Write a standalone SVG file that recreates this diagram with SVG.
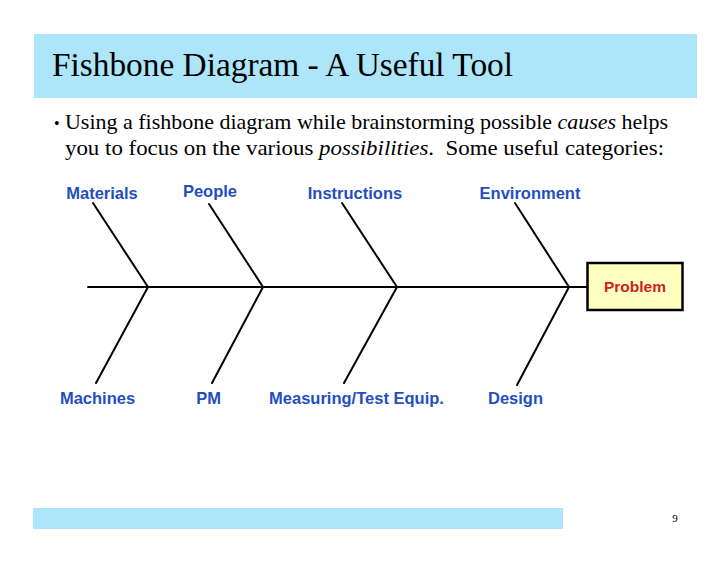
<svg xmlns="http://www.w3.org/2000/svg" width="728" height="563" viewBox="0 0 728 563">
<style>
.lbl{font-family:"Liberation Sans",Arial,sans-serif;font-weight:bold;font-size:16.5px;fill:#1F4FBF;text-anchor:middle}
.bone{stroke:#000;stroke-width:2;fill:none;stroke-linecap:round}
.serif{font-family:"Liberation Serif","Times New Roman",serif;fill:#000}
</style>
<rect width="728" height="563" fill="#fff"/>
<g id="title">
<rect x="34" y="34" width="663" height="64" fill="#ADE5FB"/>
<text class="serif" x="52" y="76" font-size="33" textLength="461" lengthAdjust="spacingAndGlyphs">Fishbone Diagram - A Useful Tool</text>
</g>
<g id="bullet">
<text class="serif" x="54" y="129" font-size="16">•</text>
<text class="serif" x="65" y="129" font-size="22" textLength="603" lengthAdjust="spacingAndGlyphs">Using a fishbone diagram while brainstorming possible <tspan font-style="italic">causes</tspan> helps</text>
<text class="serif" x="65" y="155" font-size="22" textLength="599" lengthAdjust="spacingAndGlyphs" xml:space="preserve">you to focus on the various <tspan font-style="italic">possibilities</tspan>.  Some useful categories:</text>
</g>
<g id="connectors">
<line class="bone" x1="88" y1="287" x2="587" y2="287"/>
<line class="bone" x1="93" y1="203" x2="148" y2="287"/>
<line class="bone" x1="96" y1="383" x2="148" y2="287"/>
<line class="bone" x1="209" y1="204" x2="263" y2="287"/>
<line class="bone" x1="212" y1="383" x2="263" y2="287"/>
<line class="bone" x1="342" y1="203" x2="397" y2="287"/>
<line class="bone" x1="344" y1="383" x2="397" y2="287"/>
<line class="bone" x1="515" y1="203" x2="569" y2="287"/>
<line class="bone" x1="517" y1="385" x2="569" y2="287"/>
</g>
<g id="problem">
<rect x="587.5" y="263" width="95" height="47" fill="#FFFFC0" stroke="#000" stroke-width="2.5"/>
<text x="635" y="292" font-family="Liberation Sans,Arial,sans-serif" font-weight="bold" font-size="15.5" fill="#D0202A" text-anchor="middle">Problem</text>
</g>
<g id="materials"><text class="lbl" x="102" y="199">Materials</text></g>
<g id="people"><text class="lbl" x="210" y="197">People</text></g>
<g id="instructions"><text class="lbl" x="355" y="199">Instructions</text></g>
<g id="environment"><text class="lbl" x="530" y="199">Environment</text></g>
<g id="machines"><text class="lbl" x="97.5" y="404">Machines</text></g>
<g id="pm"><text class="lbl" x="208.5" y="404">PM</text></g>
<g id="measuring"><text class="lbl" x="356.5" y="404">Measuring/Test Equip.</text></g>
<g id="design"><text class="lbl" x="515.5" y="404">Design</text></g>
<g id="footer">
<rect x="33" y="508" width="530" height="21" fill="#ADE5FB"/>
<text class="serif" x="675" y="522" font-size="11" text-anchor="middle">9</text>
</g>
</svg>
